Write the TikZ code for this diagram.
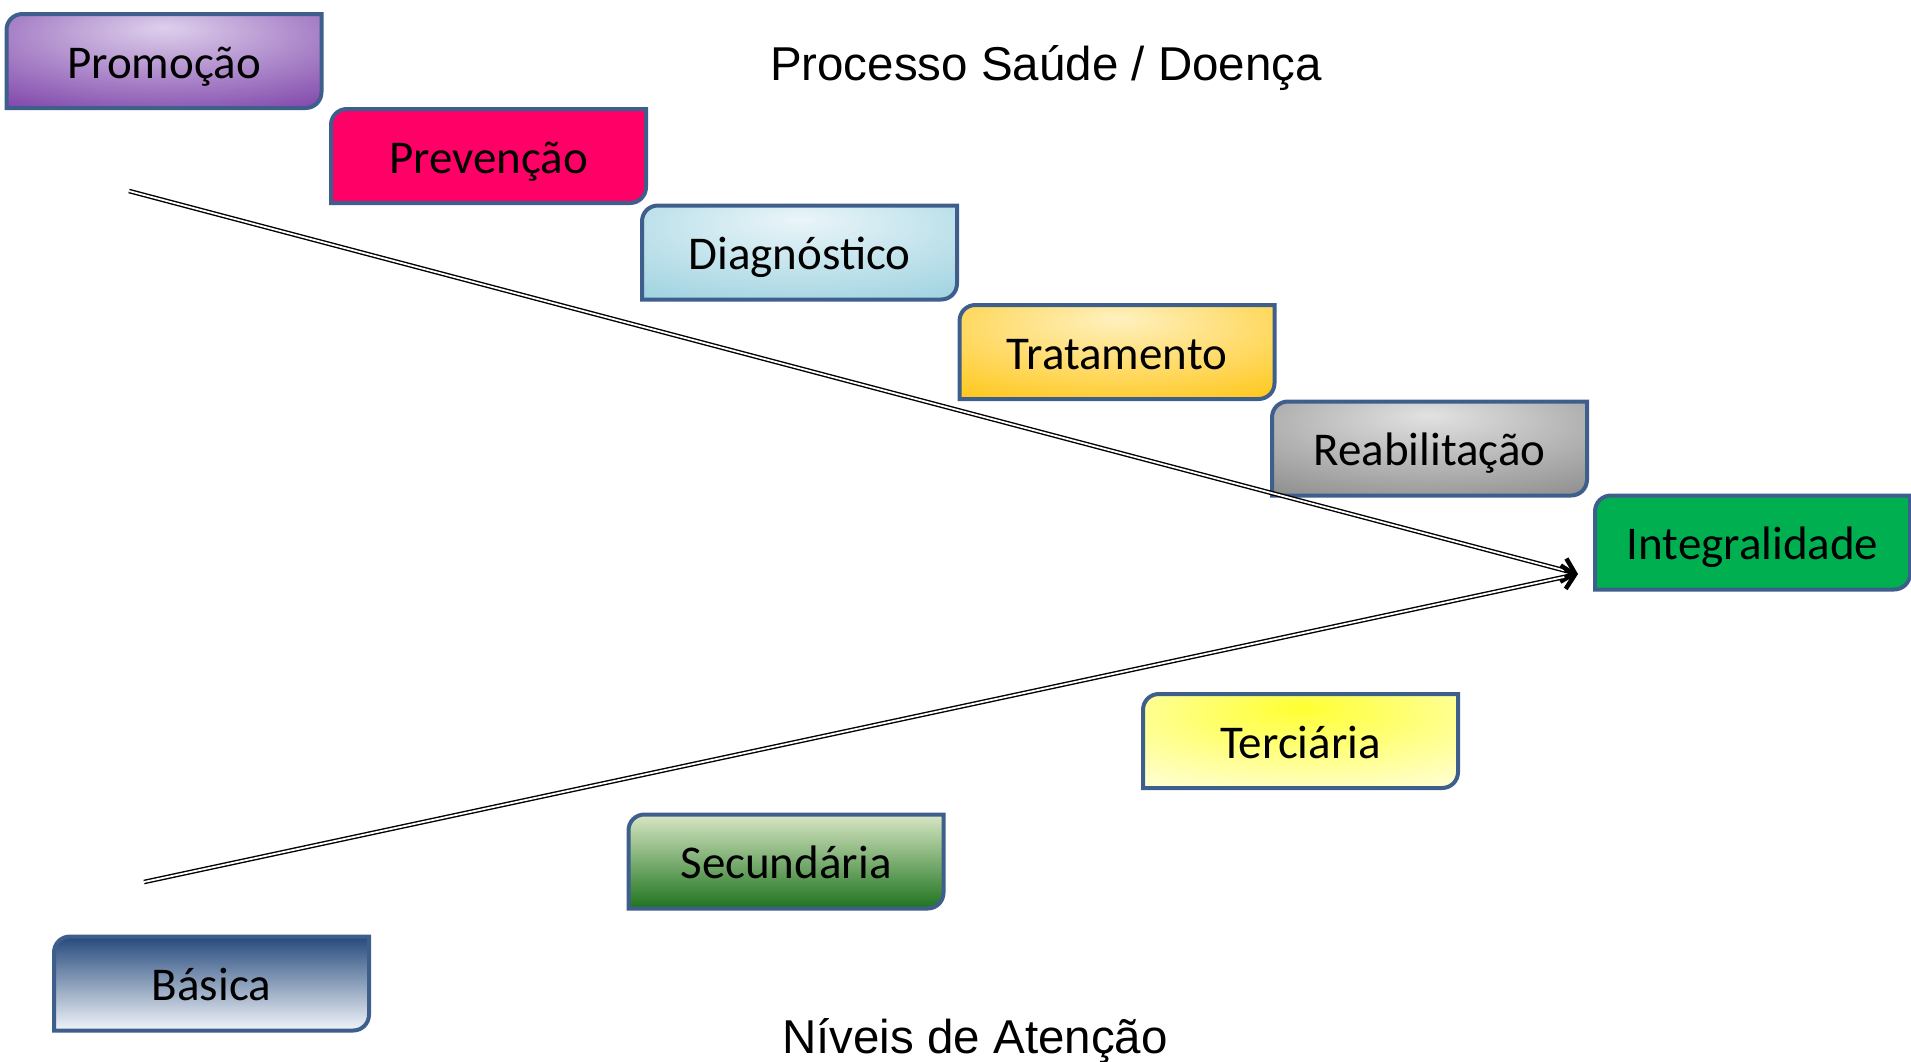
\documentclass[tikz,border=0pt]{standalone}
\usepackage{fontspec}
\setmainfont{Carlito}
\newfontfamily\arialfont{Liberation Sans}
\usetikzlibrary{arrows.meta}
\usetikzlibrary{backgrounds}
\definecolor{tabLine}{RGB}{62,94,140}
\definecolor{promoIn}{RGB}{222,208,236}
\definecolor{promoOut}{RGB}{112,48,160}
\definecolor{prevFill}{RGB}{255,0,102}
\definecolor{diagIn}{RGB}{234,245,249}
\definecolor{diagOut}{RGB}{146,205,220}
\definecolor{tratIn}{RGB}{255,241,192}
\definecolor{tratOut}{RGB}{255,192,0}
\definecolor{reabIn}{RGB}{226,226,226}
\definecolor{reabOut}{RGB}{128,128,128}
\definecolor{integFill}{RGB}{0,176,80}
\definecolor{tercIn}{RGB}{255,255,50}
\definecolor{tercOut}{RGB}{255,255,242}
\definecolor{secuTop}{RGB}{216,231,196}
\definecolor{secuBottom}{RGB}{30,115,30}
\definecolor{basiTop}{RGB}{38,74,124}
\definecolor{basiBottom}{RGB}{242,245,250}
\colorlet{glowIn}{white}
\colorlet{glowOut}{black}
\pgfdeclareradialshading[glowIn,glowOut]{topglow}{\pgfpoint{0bp}{18bp}}{color(0bp)=(glowIn); color(50bp)=(glowOut); color(100bp)=(glowOut)}

\begin{document}
\begin{tikzpicture}[x=1pt,y=-1pt,
  tab node/.style={minimum width=315pt,minimum height=94pt,inner sep=0pt,outer sep=0pt,
  text height=36pt,text depth=2pt,font=\fontsize{47}{56}\selectfont},
  title node/.style={font=\arialfont\fontsize{47.5}{57}\selectfont,anchor=base},
  tab line/.style={draw=tabLine,line width=4pt},
  glow/.style 2 args={shade,shading=topglow,/utils/exec={\colorlet{glowIn}{#1}\colorlet{glowOut}{#2}}},
  tab promo/.style={glow={promoIn}{promoOut}},
  tab prev/.style={fill=prevFill},
  tab diag/.style={glow={diagIn}{diagOut}},
  tab trat/.style={glow={tratIn}{tratOut}},
  tab reab/.style={glow={reabIn}{reabOut}},
  tab integ/.style={fill=integFill},
  tab terc/.style={glow={tercIn}{tercOut}},
  tab secu/.style={top color=secuTop,bottom color=secuBottom},
  tab basi/.style={top color=basiTop,bottom color=basiBottom},
  flow/.style={line width=4.6pt,-{Straight Barb[length=12pt,width=24pt,line width=4.5pt]},
  postaction={draw=white,line width=1.8pt,-,shorten >=14pt}}]
\useasboundingbox (0,0) rectangle (1911,1061);
%------------------------------------------------------------------------
% Processo saude / doenca
%------------------------------------------------------------------------
\node[title node] (process) at (1046,80) {Processo Saúde / Doença};
\node[tab node] (promo) at (164,61) {Promoção};
\node[tab node] (prev) at (488.5,156) {Prevenção};
\node[tab node] (diag) at (799.5,252.5) {Diagnóstico};
\node[tab node] (trat) at (1117,352) {Tratamento};
\node[tab node] (reab) at (1429.5,448.5) {Reabilitação};
\node[tab node] (integ) at (1752.5,542.5) {Integralidade};
%------------------------------------------------------------------------
% Niveis de atencao
%------------------------------------------------------------------------
\node[tab node] (terc) at (1300.5,741) {Terciária};
\node[tab node] (secu) at (786,861.5) {Secundária};
\node[tab node] (basi) at (211.5,983.5) {Básica};
\node[title node] (levels) at (975,1053) {Níveis de Atenção};
% the tabs: round top left and bottom right corners
\begin{scope}[on background layer]
\foreach \n in {promo,prev,diag,trat,reab,integ,terc,secu,basi}
  \path[tab line,tab \n] (\n.south west) -- ([yshift=-16pt]\n.north west)
    .. controls ([yshift=-7pt]\n.north west) and ([xshift=7pt]\n.north west)
    .. ([xshift=16pt]\n.north west) -- (\n.north east) -- ([yshift=16pt]\n.south east)
    .. controls ([yshift=7pt]\n.south east) and ([xshift=-7pt]\n.south east)
    .. ([xshift=-16pt]\n.south east) -- cycle;
\end{scope}
%------------------------------------------------------------------------
% The two arrows
%------------------------------------------------------------------------
\coordinate (topstart) at (129,191);
\coordinate (lowstart) at (144,882);
\coordinate (tip) at (1578,574);
\draw[flow] (topstart) -- (tip);
\draw[flow] (lowstart) -- (tip);
\end{tikzpicture}
\end{document}
